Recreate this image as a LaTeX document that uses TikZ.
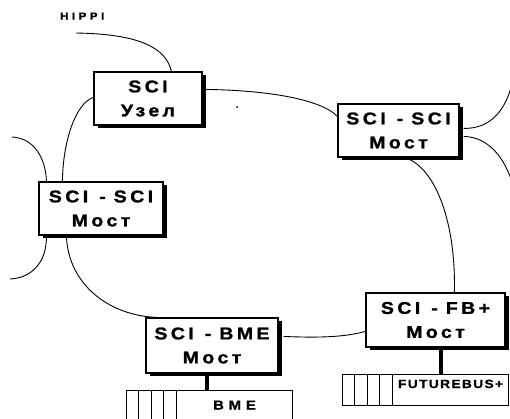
\documentclass[tikz,border=0pt]{standalone}
\usepackage{fontspec}
\newfontfamily\boxfont{Liberation Sans}[FakeStretch=1.15,LetterSpace=20,FakeBold=1.3]
\newfontfamily\hippifont{Liberation Sans}[FakeStretch=1.15,LetterSpace=35,FakeBold=1]
\newfontfamily\fbfont{Liberation Sans}[FakeStretch=1.15,LetterSpace=11,FakeBold=1]
\newfontfamily\bmefont{Liberation Sans}[FakeStretch=1.15,LetterSpace=37,FakeBold=1]
\newcommand\brdash{\hspace{11pt}-\hspace{8pt}}
\usetikzlibrary{calc,shadows}

\begin{document}
\begin{tikzpicture}[x=1pt,y=-1pt,
  bridge/.style={draw=black, line width=1.2pt, fill=white, inner sep=0pt, align=center,
    font=\boxfont\bfseries\fontsize{17}{24}\selectfont,
    drop shadow={shadow xshift=3.5pt, shadow yshift=-2.5pt, opacity=1, fill=black}},
  bus/.style={draw=black, line width=0.9pt, fill=white, inner sep=0pt,
    minimum width=166pt, minimum height=31pt},
  divider/.style={line width=0.9pt},
  link/.style={line width=0.9pt},
  stub/.style={line width=4.5pt},
  buslabel/.style={inner sep=0pt, anchor=base}]

\useasboundingbox (0,0) rectangle (510,418);
\clip (0,0) rectangle (510,418);

% SCI bridges and node
\node[bridge, minimum width=108pt, minimum height=53pt] (uzel) at (148,98.5) {SCI\\Узел};
\node[bridge, minimum width=121pt, minimum height=53pt] (rss)  at (398.5,130.5) {SCI\brdash SCI\\Мост};
\node[bridge, minimum width=124pt, minimum height=53pt] (lss)  at (101,208.5) {SCI\brdash SCI\\Мост};
\node[bridge, minimum width=132pt, minimum height=55pt] (bme)  at (212,345.5) {SCI\brdash BME\\Мост};
\node[bridge, minimum width=139pt, minimum height=54pt] (fb)   at (435.5,320) {SCI\brdash FB+\\Мост};

% backplane buses
\node[bus] (fbbus)  at (425,389.5) {};
\node[bus] (bmebus) at (209,405.5) {};
\foreach \dx in {13,26,38,51} {
  \draw[divider] ($(fbbus.north west)+(\dx,0)$) -- ($(fbbus.south west)+(\dx,0)$);
  \draw[divider] ($(bmebus.north west)+(\dx,0)$) -- ($(bmebus.south west)+(\dx,0)$);
}
\node[buslabel, font=\fbfont\bfseries\fontsize{12}{14}\selectfont] (fblabel) at ($(fbbus.north west)+(109,14.5)$) {FUTUREBUS+};
\node[buslabel, font=\bmefont\bfseries\fontsize{13}{15}\selectfont] (bmelabel) at ($(bmebus.north west)+(109,20)$) {BME};

% bridge-to-bus stubs
\coordinate (fbtap)  at ($(fb.south)+(5.5,0)$);
\coordinate (bmetap) at ($(bme.south)+(-5,0)$);
\draw[stub] (fbtap) -- (fbtap |- fbbus.north);
\draw[stub] (bmetap) -- (bmetap |- bmebus.north);

% HIPPI link
\node[inner sep=0pt, anchor=base west, font=\hippifont\bfseries\fontsize{10}{12}\selectfont] (hippi) at (60,19.5) {HIPPI};
\coordinate (hippiend) at (76,33);
\draw[link] (hippiend) .. controls (140,34) and (166,48) .. ($(uzel.north west)+(78,0)$);

% SCI ring segments
\draw[link] ($(uzel.north east)+(0,18)$) .. controls (270,90) and (322,100) .. ($(rss.north west)+(0,13)$);
\draw[link] ($(uzel.north west)+(0,26)$) .. controls (76,103) and (63,140) .. ($(lss.north west)+(24,0)$);
\draw[link] ($(lss.south west)+(28,0)$) .. controls (68,285) and (110,316) .. ($(bme.north west)+(12,0)$);
\draw[link] ($(bme.north east)+(5,19)$) .. controls (320,338) and (345,337) .. ($(fb.north west)+(0,39)$);
\draw[link] ($(rss.south west)+(67,0)$) .. controls (432,165) and (456,215) .. ($(fb.north west)+(89,0)$);

% links leaving the picture
\coordinate (lssin)  at (12,137);
\coordinate (lssout) at (10,279);
\coordinate (rssup)  at (512,84);
\coordinate (rssdn)  at (512,182);
\draw[link] (lssin) .. controls (35,138) and (46,160) .. ($(lss.north west)+(8,0)$);
\draw[link] ($(lss.south west)+(8,0)$) .. controls (47,262) and (32,278) .. (lssout);
\draw[link] ($(rss.north east)+(4,25)$) .. controls (492,129) and (506,108) .. (rssup);
\draw[link] ($(rss.north east)+(4,33)$) .. controls (490,137) and (505,160) .. (rssdn);

% stray ink dot
\fill (237,107) circle (1pt);
\end{tikzpicture}
\end{document}
